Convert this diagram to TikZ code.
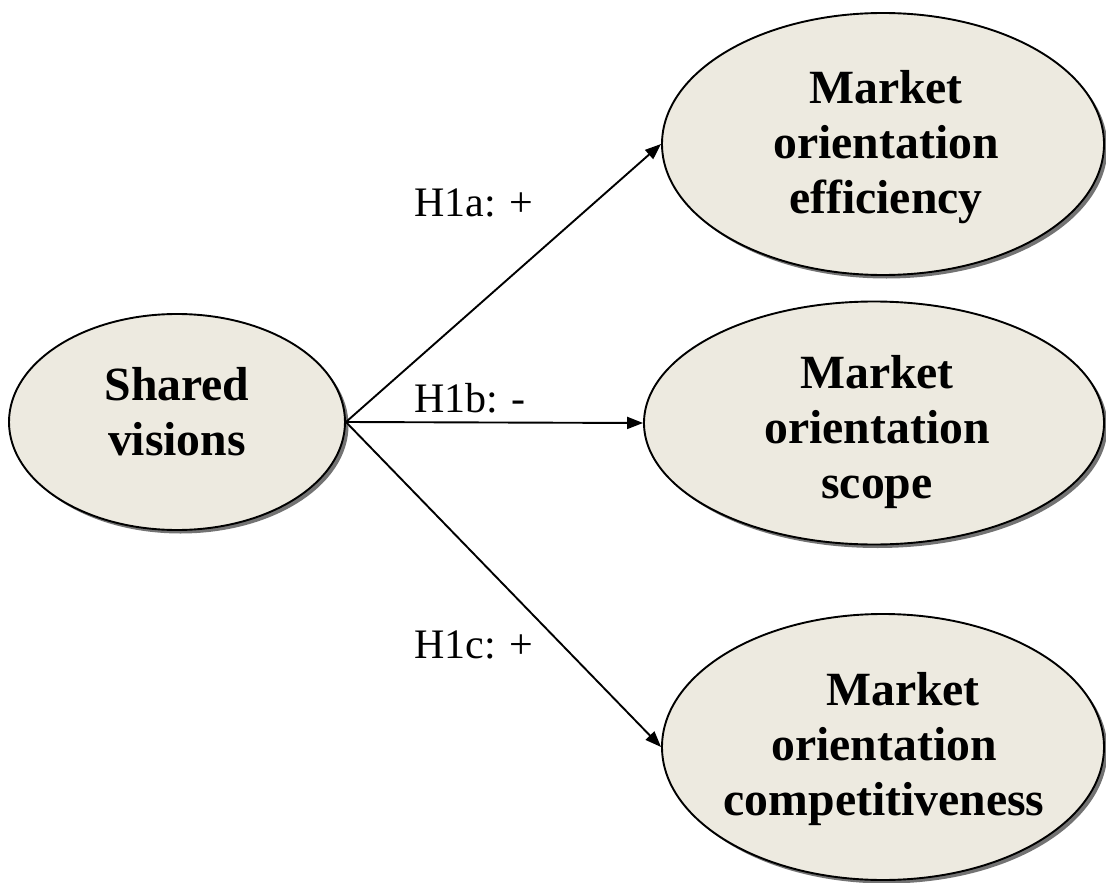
\documentclass[tikz,border=0pt]{standalone}
\usepackage{fontspec}
\setmainfont{Liberation Serif}
\usetikzlibrary{shapes.geometric,shadows,arrows.meta}
\definecolor{ovalfill}{RGB}{237,234,224}
\begin{document}
\begin{tikzpicture}[x=1pt,y=-1pt,
  oval/.style={ellipse,draw=black,line width=1.9pt,fill=ovalfill,inner sep=0pt,
    drop shadow={shadow xshift=3.5pt,shadow yshift=-3.5pt,fill=black!55,opacity=1}},
  ovaltext/.style={align=center,inner sep=0pt,font=\fontsize{47.7}{55}\selectfont\bfseries},
  hyp/.style={inner sep=0pt,anchor=base,font=\fontsize{42}{48}\selectfont},
  link/.style={line width=1.9pt,-{Triangle[length=16pt,width=12pt]}}]
\useasboundingbox (0,0) rectangle (1106,883);
\node[oval,minimum width=336pt,minimum height=216pt] (sv) at (177,422) {};
\node[oval,minimum width=442pt,minimum height=262pt] (e1) at (883,144) {};
\node[oval,minimum width=460pt,minimum height=243pt] (e2) at (874,423) {};
\node[oval,minimum width=442pt,minimum height=266pt] (e3) at (883,747) {};
\node[ovaltext] (tsv) at (177,411.5) {Shared\\visions};
\node[ovaltext] (t1) at (886,147) {Market\\orientation\\efficiency};
\node[ovaltext] (t2) at (877,432) {Market\\orientation\\scope};
\node[ovaltext] (t3) at (884,749) {\hspace*{38pt}Market\\orientation\\competitiveness};
\draw[link] (sv.east) -- (e1.west);
\draw[link] (sv.east) -- (e2.west);
\draw[link] (sv.east) -- (e3.west);
\node[hyp] (h1) at (474,216) {H1a: +};
\node[hyp] (h2) at (470,412) {H1b: -};
\node[hyp] (h3) at (474,658) {H1c: +};
\end{tikzpicture}
\end{document}
